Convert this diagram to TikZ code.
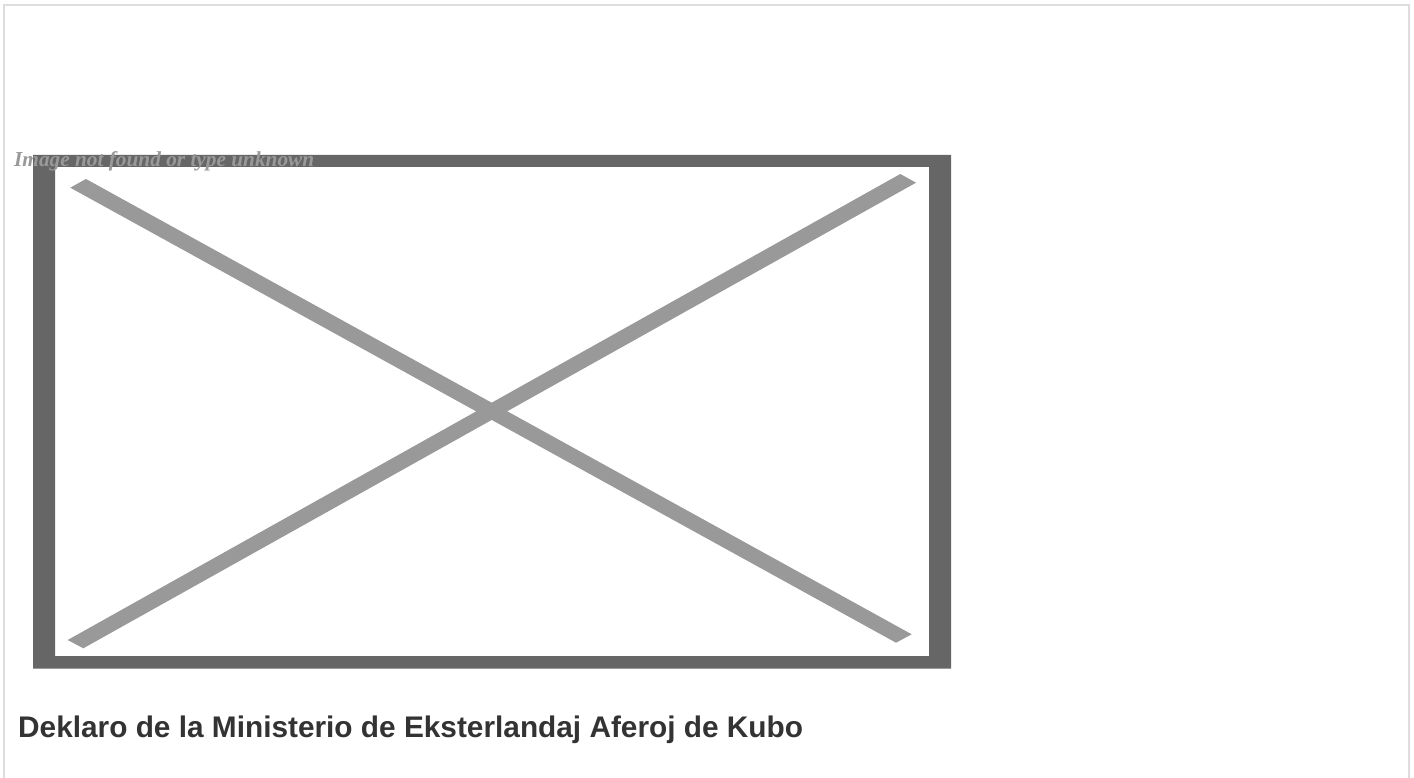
\documentclass[tikz,border=0pt]{standalone}
\usepackage{fontspec}
\setmainfont{Liberation Sans}
\newfontfamily\serifx{Liberation Serif}
\definecolor{framegray}{HTML}{666666}
\definecolor{crossgray}{HTML}{999999}
\definecolor{pagegray}{HTML}{DDDDDD}
\definecolor{titlegray}{HTML}{333333}
\tikzset{
  pageedge/.style={draw=pagegray,line width=2pt},
  crossbar/.style={fill=crossgray,draw=none},
  imgframe/.style={draw=none,fill=framegray,even odd rule},
  missing/.style={anchor=base west,inner sep=0pt,text=crossgray,font=\serifx\bfseries\itshape\fontsize{21.3}{24}\selectfont},
  heading/.style={anchor=base west,inner sep=0pt,text=titlegray,font=\bfseries\fontsize{29.8}{34}\selectfont}
}
\begin{document}
\begin{tikzpicture}[x=1pt,y=-1pt]
\useasboundingbox (0,0) rectangle (1414,778);
\fill[white] (0,0) rectangle (1414,778);
\draw[pageedge] (4,778) -- (4,5) -- (1408.5,5) -- (1408.5,778);
\fill[imgframe] (33,155) rectangle (951,668.5) (55,167) rectangle (929,656);
\fill[crossbar] (70.3,187.7) -- (86,179) -- (911.7,634.3) -- (896,642.7) -- cycle;
\fill[crossbar] (900.3,174) -- (916,182.7) -- (83.3,648.3) -- (67.7,640) -- cycle;
\node[missing] (alt) at (14,167) {Image not found or type unknown};
\node[heading] (title) at (18,737) {Deklaro de la Ministerio de Eksterlandaj Aferoj de Kubo};
\end{tikzpicture}
\end{document}
